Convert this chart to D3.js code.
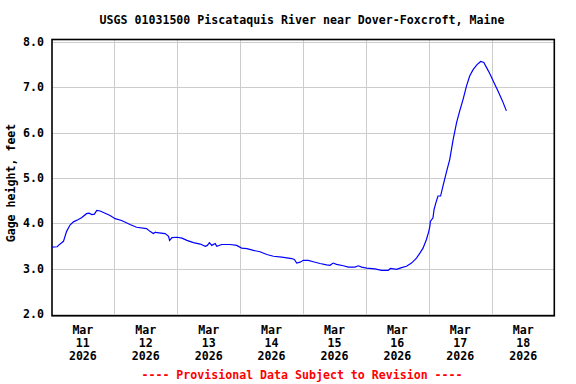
<!DOCTYPE html>
<html>
<head>
<meta charset="utf-8">
<script src="https://cdn.jsdelivr.net/npm/d3@7"></script>
<style>
  body { margin: 0; background: #fff; }
  svg text { font-family: "DejaVu Sans Mono", "Liberation Mono", monospace; font-weight: bold; font-size: 11.6px; }
</style>
</head>
<body>
<div id="chart"></div>
<script>

const title = 'USGS 01031500 Piscataquis River near Dover-Foxcroft, Maine'
const yLabel = 'Gage height, feet'
const footer = '---- Provisional Data Subject to Revision ----'

// hours since Mar 11 2026 00:00, gage height in feet
const hours = [0, 2.2, 2.7, 4.6, 5.8, 7.1, 8.4, 10.3, 11.5, 13.4, 14.4, 15.4, 16.4, 17.3, 18.6, 20.5, 22.4,
	24.3, 26.8, 30.0, 32.5, 36.3, 37.6, 38.9, 39.7, 40.3, 43.4, 44.7, 45.1, 46.0, 47.9, 49.8, 51.7, 54.2,
	56.8, 58.7, 59.5, 60.3, 61.2, 62.5, 63.1, 65.0, 68.2, 70.7, 72.6, 74.6, 77.1, 79.6, 82.2, 84.7, 87.9,
	91.7, 92.7, 93.6, 94.9, 96.1, 98.0, 99.9, 102.5, 105.0, 106.3, 107.5, 108.8, 111.4, 113.3, 115.8,
	117.1, 118.4, 120.3, 123.4, 126.0, 128.5, 129.4, 131.7, 133.6, 135.5, 137.4, 139.3, 140.6, 141.8,
	143.1, 144.0, 144.4, 144.6, 145.6, 146.0, 146.7, 147.5, 148.5, 149.4, 150.7, 152.0, 153.3, 154.6,
	155.8, 157.1, 158.4, 159.6, 160.9, 162.4, 163.8, 165.0, 166.0, 167.2, 168.8, 170.4, 172.1, 173.6]
const gage = [3.47, 3.48, 3.51, 3.60, 3.82, 3.96, 4.03, 4.08, 4.12, 4.21, 4.22, 4.19, 4.20, 4.28, 4.27, 4.22, 4.17,
	4.10, 4.06, 3.97, 3.91, 3.88, 3.82, 3.77, 3.80, 3.79, 3.77, 3.71, 3.62, 3.68, 3.69, 3.67, 3.62, 3.57,
	3.54, 3.49, 3.51, 3.57, 3.51, 3.55, 3.49, 3.53, 3.53, 3.51, 3.45, 3.44, 3.40, 3.37, 3.31, 3.27, 3.25,
	3.22, 3.20, 3.12, 3.14, 3.18, 3.18, 3.15, 3.11, 3.08, 3.07, 3.12, 3.09, 3.06, 3.03, 3.03,
	3.06, 3.03, 3.01, 2.99, 2.96, 2.96, 3.00, 2.98, 3.02, 3.05, 3.12, 3.23, 3.34, 3.45,
	3.64, 3.82, 3.93, 4.04, 4.12, 4.30, 4.45, 4.60, 4.60, 4.82, 5.12, 5.41, 5.85, 6.22,
	6.48, 6.74, 7.03, 7.25, 7.39, 7.50, 7.57, 7.55, 7.44, 7.31, 7.11, 6.92, 6.70, 6.48]

const yTicks = [2, 3, 4, 5, 6, 7, 8]
const dayLabels = ['11', '12', '13', '14', '15', '16', '17', '18']

const width = 576
const height = 384
const start = new Date(2026, 2, 11)
const end = new Date(2026, 2, 19)

const svg = d3.select('#chart')
	.append('svg')
	.attr('width', width)
	.attr('height', height)

const x = d3.scaleTime()
	.domain([start, end])
	.range([51.4, 554.6])

const y = d3.scaleLinear()
	.domain([2, 8])
	.range([313.8, 42])

const data = hours.map((h, i) => ({ date: d3.timeMinute.offset(start, Math.round(h * 60)), value: gage[i] }))

// grid
svg.append('g')
	.selectAll('line')
	.data(yTicks)
	.enter()
	.append('line')
	.attr('x1', 52).attr('x2', 554)
	.attr('y1', d => Math.round(y(d)) + 0.5).attr('y2', d => Math.round(y(d)) + 0.5)
	.attr('stroke', '#cccccc')

svg.append('g')
	.selectAll('line')
	.data(d3.timeDay.range(d3.timeDay.offset(start, 1), end))
	.enter()
	.append('line')
	.attr('x1', d => Math.round(x(d)) + 0.5).attr('x2', d => Math.round(x(d)) + 0.5)
	.attr('y1', 40).attr('y2', 315)
	.attr('stroke', '#cccccc')

// frame
svg.append('rect')
	.attr('x', 52).attr('y', 39.5)
	.attr('width', 502.3).attr('height', 276.3)
	.attr('fill', 'none')
	.attr('stroke', '#000')
	.attr('stroke-width', 1.6)

// data line
svg.append('path')
	.datum(data)
	.attr('fill', 'none')
	.attr('stroke', '#0000ff')
	.attr('stroke-width', 1.2)
	.attr('d', d3.line().x(d => x(d.date)).y(d => y(d.value)))

// y tick labels
svg.append('g')
	.selectAll('text')
	.data(yTicks)
	.enter()
	.append('text')
	.attr('x', 44)
	.attr('y', d => y(d) + 4)
	.attr('text-anchor', 'end')
	.text(d => d3.format('.1f')(d))

// x tick labels at noon
const xl = svg.append('g')
	.selectAll('g')
	.data(dayLabels)
	.enter()
	.append('text')
	.attr('text-anchor', 'middle')
	.attr('transform', (d, i) => `translate(${x(d3.timeHour.offset(start, 24 * i + 12))},0)`)

xl.append('tspan').attr('x', 0).attr('y', 334).text('Mar')
xl.append('tspan').attr('x', 0).attr('y', 347).text(d => d)
xl.append('tspan').attr('x', 0).attr('y', 360).text('2026')

svg.append('text')
	.attr('x', 302)
	.attr('y', 24)
	.attr('text-anchor', 'middle')
	.text(title)

svg.append('text')
	.attr('transform', 'translate(14.5,183) rotate(-90)')
	.attr('text-anchor', 'middle')
	.text(yLabel)

svg.append('text')
	.attr('x', 302)
	.attr('y', 379)
	.attr('text-anchor', 'middle')
	.attr('fill', '#ff0000')
	.text(footer)

</script>
</body>
</html>
